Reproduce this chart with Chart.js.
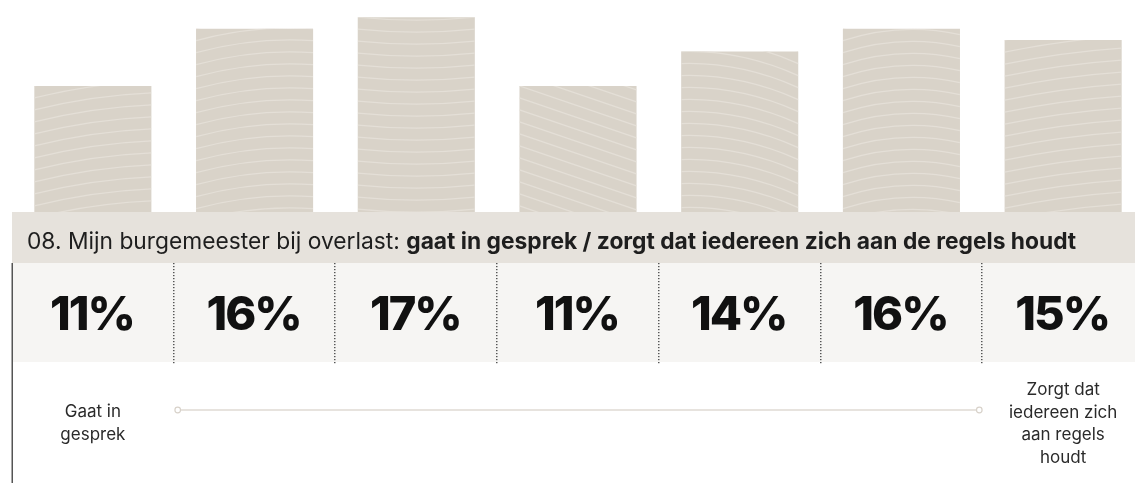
<!DOCTYPE html>
<html>
<head>
<meta charset="utf-8">
<script src="https://cdn.jsdelivr.net/npm/chart.js@4.4.1/dist/chart.umd.min.js"></script>
<style>
  html, body { margin: 0; padding: 0; background: #ffffff; overflow: hidden; width: 1135px; height: 483px; }
  #wrap { position: relative; width: 1150px; height: 483px; }
</style>
</head>
<body>
<div id="wrap"><canvas id="c" width="1150" height="483"></canvas></div>
<script>
// ---- data ----
const categories = ["1", "2", "3", "4", "5", "6", "7"];
const values = [11, 16, 17, 11, 14, 16, 15];
const valueLabels = ["11%", "16%", "17%", "11%", "14%", "16%", "15%"];
const titleRegular = "08. Mijn burgemeester bij overlast: ";
const titleBold = "gaat in gesprek / zorgt dat iedereen zich aan de regels houdt";
const leftLabel = ["Gaat in", "gesprek"];
const rightLabel = ["Zorgt dat", "iedereen zich", "aan regels", "houdt"];

// ---- styling ----
const FONT = "Inter, 'Open Sans', sans-serif";
const BAR_COLOR = "#d9d3c9";
const WAVE_COLOR = "#e4dfd7";
const waveSlope = [-17, -12, 0, 40, 24, -6, -16];
const waveCurve = [-3, -5, 3, 0, -7, -8, -2];

const overlay = {
  id: "overlay",
  beforeDatasetsDraw(chart) {
    const ctx = chart.ctx;
    const W = chart.width;
    ctx.save();
    ctx.fillStyle = "#e6e2dc";
    ctx.fillRect(12, 212, W - 12, 51);
    ctx.fillStyle = "#f6f5f3";
    ctx.fillRect(12, 263, W - 12, 99);
    ctx.restore();
  },
  afterDatasetsDraw(chart) {
    const ctx = chart.ctx;
    const meta = chart.getDatasetMeta(0);
    meta.data.forEach((bar, i) => {
      const p = bar.getProps(["x", "y", "base", "width"], true);
      const L = p.x - p.width / 2, R = p.x + p.width / 2;
      ctx.save();
      ctx.beginPath();
      ctx.rect(L, p.y, p.width, p.base - p.y);
      ctx.clip();
      ctx.strokeStyle = WAVE_COLOR;
      ctx.lineWidth = 1.3;
      const s = waveSlope[i % waveSlope.length], c = waveCurve[i % waveCurve.length];
      for (let y0 = p.y - 60; y0 < p.base + 60; y0 += 12) {
        ctx.beginPath();
        ctx.moveTo(L, y0);
        ctx.quadraticCurveTo((L + R) / 2, y0 + s / 2 + 2 * c, R, y0 + s);
        ctx.stroke();
      }
      ctx.restore();
    });

    const xs = chart.scales.x;
    const pitch = xs.getPixelForValue(1) - xs.getPixelForValue(0);
    ctx.save();
    ctx.textBaseline = "middle";
    ctx.fillStyle = "#1e1e1e";
    const targetW = 1050;
    let fs = 18;
    ctx.font = `400 ${fs}px ${FONT}`;
    let w1 = ctx.measureText(titleRegular).width;
    ctx.font = `700 ${fs}px ${FONT}`;
    let w2 = ctx.measureText(titleBold).width;
    fs = fs * targetW / (w1 + w2);
    ctx.font = `400 ${fs}px ${FONT}`;
    w1 = ctx.measureText(titleRegular).width;
    ctx.textAlign = "left";
    ctx.fillText(titleRegular, 27, 242);
    ctx.font = `700 ${fs}px ${FONT}`;
    ctx.fillText(titleBold, 27 + w1, 242);

    // percentages
    ctx.font = `800 47px ${FONT}`;
    if ("letterSpacing" in ctx) ctx.letterSpacing = "-2px";
    ctx.textAlign = "center";
    ctx.fillStyle = "#111111";
    valueLabels.forEach((t, i) => {
      ctx.fillText(t, xs.getPixelForValue(i) - 1, 316);
    });
    if ("letterSpacing" in ctx) ctx.letterSpacing = "0px";

    ctx.fillStyle = "#555555";
    for (let i = 1; i < categories.length; i++) {
      const x = Math.round(xs.getPixelForValue(i) - pitch / 2);
      for (let y = 263; y < 364; y += 3) ctx.fillRect(x - 1, y, 1.5, 1.2);
    }
    ctx.fillRect(11.5, 263, 1.5, 220);

    const xa = xs.getPixelForValue(0) + pitch / 2 + 4;
    const xb = xs.getPixelForValue(categories.length - 1) - pitch / 2 - 3;
    ctx.strokeStyle = "#dfdad3";
    ctx.lineWidth = 1.5;
    ctx.beginPath();
    ctx.moveTo(xa + 3, 410);
    ctx.lineTo(xb - 3, 410);
    ctx.stroke();
    [xa, xb].forEach(x => {
      ctx.beginPath();
      ctx.arc(x, 410, 2.8, 0, Math.PI * 2);
      ctx.fillStyle = "#ffffff";
      ctx.fill();
      ctx.strokeStyle = "#d8d2ca";
      ctx.lineWidth = 1.2;
      ctx.stroke();
    });

    ctx.font = `400 17px ${FONT}`;
    ctx.fillStyle = "#2a2a2a";
    ctx.textAlign = "center";
    leftLabel.forEach((t, k) => ctx.fillText(t, xs.getPixelForValue(0), 412 + k * 23));
    rightLabel.forEach((t, k) => ctx.fillText(t, xs.getPixelForValue(categories.length - 1), 390 + k * 22.5));
    ctx.restore();
  }
};

new Chart(document.getElementById("c"), {
  type: "bar",
  data: {
    labels: categories,
    datasets: [{
      data: values,
      backgroundColor: BAR_COLOR,
      borderWidth: 0,
      barPercentage: 0.724,
      categoryPercentage: 1.0
    }]
  },
  options: {
    responsive: false,
    animation: false,
    events: [],
    layout: { padding: { left: 12, right: 6, top: 0, bottom: 271 } },
    plugins: { legend: { display: false }, tooltip: { enabled: false } },
    scales: {
      x: { display: false, grid: { display: false } },
      y: { display: false, min: 0, max: 18.5, grid: { display: false } }
    }
  },
  plugins: [overlay]
});
</script>
</body>
</html>
